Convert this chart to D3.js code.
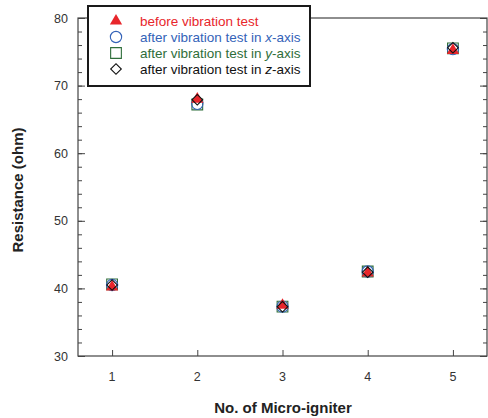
<!doctype html>
<html lang="en">
<head>
<meta charset="utf-8">
<title>Resistance vs Micro-igniter</title>
<script src="https://d3js.org/d3.v7.min.js"></script>
<style>
  body { margin: 0; background: #fff; }
  svg text { font-family: Arial, "Liberation Sans", sans-serif; }
</style>
</head>
<body>
<div id="chart"></div>
<script>
// data
var igniters = [1, 2, 3, 4, 5];
var before = [40.2, 68.0, 37.5, 42.3, 75.2];
var afterX = [40.5, 67.3, 37.3, 42.5, 75.4];
var afterY = [40.6, 67.2, 37.3, 42.5, 75.5];
var afterZ = [40.5, 67.9, 37.3, 42.4, 75.6];
var yTicks = [30, 40, 50, 60, 70, 80];
var legendLabels = ["before vibration test", "after vibration test in ", "after vibration test in ", "after vibration test in "];
var legendAxes = ["", "x", "y", "z"];

var w = 488, h = 418;
var mLeft = 78, mRight = 487, mTop = 18, mBottom = 356;
var axisCol = "#444";

var svg = d3.select("#chart").append("svg")
  .attr("width", w).attr("height", h);

var x = d3.scaleLinear().domain([0.6, 5.4]).range([mLeft, mRight]);
var y = d3.scaleLinear().domain([30, 80]).range([mBottom, mTop]);

// frame
svg.append("rect")
  .attr("x", mLeft).attr("y", mTop)
  .attr("width", mRight - mLeft).attr("height", mBottom - mTop)
  .attr("fill", "none").attr("stroke", axisCol).attr("stroke-width", 1.2);

var minor = d3.range(30, 80.1, 2);

// left axis, ticks inward
var gl = svg.append("g").attr("transform", "translate(" + mLeft + ",0)");
gl.append("g").call(d3.axisRight(y).tickValues(minor).tickSize(4).tickFormat(""));
gl.append("g").call(d3.axisRight(y).tickValues(yTicks).tickSize(7).tickFormat(""));
gl.selectAll(".domain").remove();
gl.selectAll("line").attr("stroke", axisCol);

// right axis
var gr = svg.append("g").attr("transform", "translate(" + mRight + ",0)");
gr.append("g").call(d3.axisLeft(y).tickValues(minor).tickSize(4).tickFormat(""));
gr.append("g").call(d3.axisLeft(y).tickValues(yTicks).tickSize(7).tickFormat(""));
gr.selectAll(".domain").remove();
gr.selectAll("line").attr("stroke", axisCol);

// y labels
svg.selectAll(".ylab").data(yTicks).enter().append("text")
  .attr("x", mLeft - 10).attr("y", function(d) { return y(d) + 4.5; })
  .attr("text-anchor", "end").attr("font-size", 12.5).attr("fill", "#333")
  .text(function(d) { return d; });

// bottom axis
var gb = svg.append("g").attr("transform", "translate(0," + mBottom + ")");
gb.call(d3.axisTop(x).tickValues(igniters).tickSize(6).tickFormat(""));
gb.selectAll(".domain").remove();
gb.selectAll("line").attr("stroke", axisCol);

svg.selectAll(".xlab").data(igniters).enter().append("text")
  .attr("x", function(d) { return x(d); }).attr("y", mBottom + 25)
  .attr("text-anchor", "middle").attr("font-size", 12.5).attr("fill", "#333")
  .text(function(d) { return d; });

// titles
svg.append("text")
  .attr("x", 283).attr("y", 413)
  .attr("text-anchor", "middle").attr("font-size", 15).attr("font-weight", "bold").attr("fill", "#222")
  .text("No. of Micro-igniter");
svg.append("text")
  .attr("transform", "translate(23,190) rotate(-90)")
  .attr("text-anchor", "middle").attr("font-size", 15).attr("font-weight", "bold").attr("fill", "#222")
  .text("Resistance (ohm)");

// markers
var red = "#e8262b", blue = "#3463b8", green = "#2f6e3a";
var shapes = {
  tri: d3.symbol().type(d3.symbolTriangle).size(65),
  circ: d3.symbol().type(d3.symbolCircle).size(100),
  sq: d3.symbol().type(d3.symbolSquare).size(115),
  dia: d3.symbol().type(d3.symbolSquare).size(56)
};

function drawSeries(vals, shape, fill, stroke, rot) {
  svg.append("g").selectAll("path").data(vals).enter().append("path")
    .attr("d", shapes[shape])
    .attr("transform", function(d, i) { return "translate(" + x(igniters[i]) + "," + y(d) + ")" + (rot ? " rotate(45)" : ""); })
    .attr("fill", fill).attr("stroke", stroke).attr("stroke-width", 1.1);
}
drawSeries(afterY, "sq", "none", green, false);
drawSeries(afterX, "circ", "none", blue, false);
drawSeries(before, "tri", red, "none", false);
drawSeries(afterZ, "dia", "none", "#111", true);

// legend
var lg = svg.append("g");
lg.append("rect").attr("x", 88).attr("y", 6).attr("width", 222).attr("height", 80)
  .attr("fill", "#fff").attr("stroke", "#1a1a1a").attr("stroke-width", 2);
var legRows = [
  { shape: "tri", fill: red, stroke: "none", col: red, rot: false },
  { shape: "circ", fill: "none", stroke: blue, col: blue, rot: false },
  { shape: "sq", fill: "none", stroke: green, col: green, rot: false },
  { shape: "dia", fill: "none", stroke: "#111", col: "#111", rot: true }
];
legRows.forEach(function(r, i) {
  var yy = 21 + i * 16;
  lg.append("path").attr("d", shapes[r.shape])
    .attr("transform", "translate(116," + yy + ")" + (r.rot ? " rotate(45)" : ""))
    .attr("fill", r.fill).attr("stroke", r.stroke).attr("stroke-width", 1.1);
  var t = lg.append("text").attr("x", 140).attr("y", yy + 5)
    .attr("font-size", 13.5).attr("fill", r.col);
  t.append("tspan").text(legendLabels[i]);
  if (legendAxes[i]) {
    t.append("tspan").attr("font-style", "italic").text(legendAxes[i]);
    t.append("tspan").text("-axis");
  }
});
</script>
</body>
</html>
